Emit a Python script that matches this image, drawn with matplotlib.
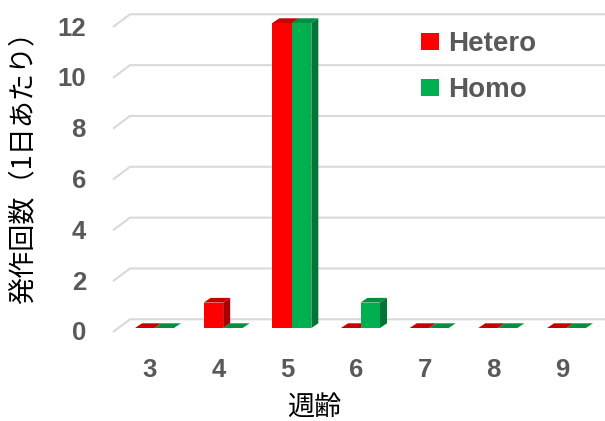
import matplotlib
matplotlib.use("Agg")
import matplotlib.pyplot as plt
from matplotlib.patches import Polygon, Patch
import numpy as np

# data
weeks = ["3", "4", "5", "6", "7", "8", "9"]
hetero = [0, 1, 12, 0, 0, 0, 0]
homo = [0, 0, 12, 1, 0, 0, 0]
yticks = [0, 2, 4, 6, 8, 10, 12]

RED = "#ff0000"; RED_TOP = "#c80000"; RED_SIDE = "#a80000"
GRN = "#00b050"; GRN_TOP = "#00903f"; GRN_SIDE = "#007535"
TXT = "#595959"; GRID = "#d9d9d9"

plt.rcParams.update({
    "font.family": ["Liberation Sans", "Noto Sans CJK JP", "DejaVu Sans"],
})

W, H = 605, 421
fig = plt.figure(figsize=(W / 100, H / 100), dpi=100)
fig.patch.set_facecolor("white")

# axes = front edge of the 3d floor, in pixels
L, R, B, T = 113, 600, 332, 27
ax = fig.add_axes([L / W, (H - B) / H, (R - L) / W, (B - T) / H])
x = np.arange(len(weeks))
c0, c1 = 150, 562
ppx = (c1 - c0) / (len(weeks) - 1)
ppy = (B - T) / 12
ax.set_xlim(-(c0 - L) / ppx, (len(weeks) - 1) + (R - c1) / ppx)
ax.set_ylim(0, 12)
ax.axis("off")
ax.patch.set_alpha(0)

# back wall gridlines with the slanted floor/wall edge on the left
gdx, gdy = 17 / ppx, 12.7 / ppy
xl = ax.get_xlim()[0]
xr = xl + (605 - L) / ppx
for v in yticks:
    ax.plot([xl, xl + gdx, xr], [v, v + gdy, v + gdy], color=GRID, lw=1.5,
            clip_on=False, zorder=1, solid_capstyle="butt")

# 3d-ish bars
bw = 19.5 / ppx
fx = 4.5 / ppx   # bars sit at mid depth
fy = 4 / ppy
ddx, ddy = 7 / ppx, 4.7 / ppy


def bar3d(x0, h, front, top, side, z):
    y0 = fy
    y1 = fy + h
    ax.add_patch(Polygon([(x0, y0), (x0 + bw, y0), (x0 + bw, y1), (x0, y1)],
                         closed=True, fc=front, ec="none", zorder=z, clip_on=False))
    ax.add_patch(Polygon([(x0, y1), (x0 + bw, y1), (x0 + bw + ddx, y1 + ddy), (x0 + ddx, y1 + ddy)],
                         closed=True, fc=top, ec="none", zorder=z, clip_on=False))
    if h > 0:
        ax.add_patch(Polygon([(x0 + bw, y0), (x0 + bw + ddx, y0 + ddy), (x0 + bw + ddx, y1 + ddy), (x0 + bw, y1)],
                             closed=True, fc=side, ec="none", zorder=z, clip_on=False))


for xi, hv, gv in zip(x, hetero, homo):
    left = xi + fx - bw
    bar3d(left, hv, RED, RED_TOP, RED_SIDE, 3)
    bar3d(left + bw, gv, GRN, GRN_TOP, GRN_SIDE, 4)

# tick labels
for v in yticks:
    ax.text(xl - 27 / ppx, v - 1.5 / ppy, str(v), ha="right", va="center", fontsize=18.5,
            fontweight="bold", color=TXT)
for xi, lab in zip(x, weeks):
    ax.text(xi, -(370 - B) / ppy, lab, ha="center", va="center", fontsize=18.5,
            fontweight="bold", color=TXT)

# axis titles
fig.text(23 / W, 1 - 161 / H, "発作回数（1日あたり）", rotation=90, ha="center", va="center",
         fontsize=19.5, family=["Noto Sans CJK JP", "DejaVu Sans"], color="black")
fig.text(314 / W, 1 - 408 / H, "週齢", ha="center", va="center",
         fontsize=19.5, family=["Noto Sans CJK JP", "DejaVu Sans"], color="black")

handles = [Patch(fc=RED, ec="none"), Patch(fc=GRN, ec="none")]
leg = fig.legend(handles, ["Hetero", "Homo"], loc="upper left",
                 bbox_to_anchor=(421 / W, 1 - 31 / H), frameon=False,
                 borderpad=0, borderaxespad=0,
                 prop={"size": 20, "weight": "bold"}, labelcolor=TXT,
                 handlelength=0.66, handleheight=0.55, handletextpad=0.3,
                 labelspacing=0.72)

fig.savefig("out.png", dpi=100, facecolor="white")
